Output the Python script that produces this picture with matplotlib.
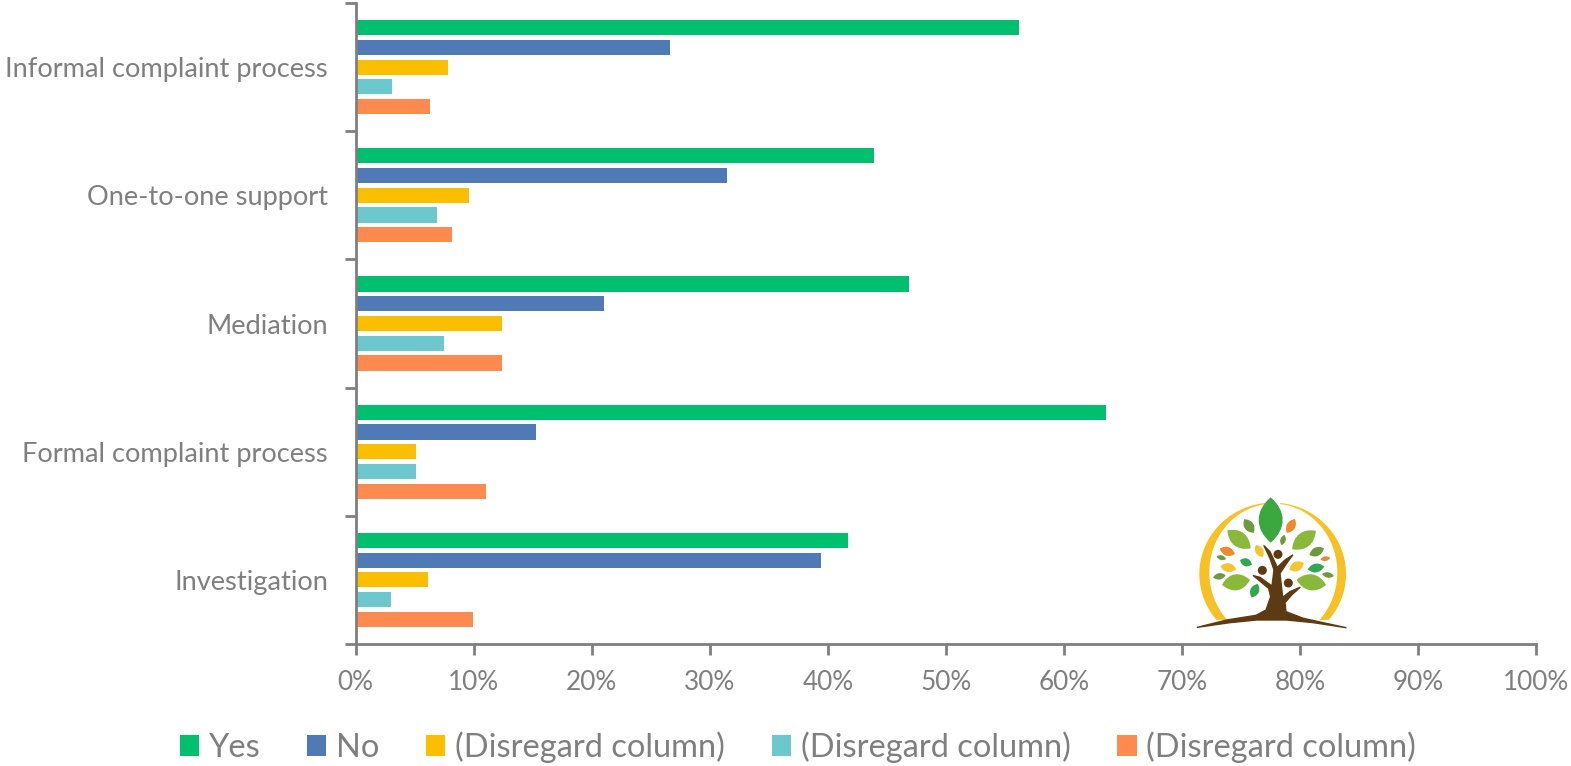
import numpy as np
import matplotlib
matplotlib.use('Agg')
import matplotlib.pyplot as plt
from matplotlib.path import Path
from matplotlib.patches import PathPatch, Circle, Polygon

plt.rcParams['font.family'] = ['Lato', 'DejaVu Sans']

categories = ['Informal complaint process', 'One-to-one support', 'Mediation',
              'Formal complaint process', 'Investigation']
series_names = ['Yes', 'No', '(Disregard column)', '(Disregard column)', '(Disregard column)']
yes = [56.2, 43.9, 46.9, 63.6, 41.7]
no = [26.6, 31.5, 21.0, 15.3, 39.4]
disregard_a = [7.8, 9.6, 12.4, 5.1, 6.1]
disregard_b = [3.1, 6.9, 7.5, 5.1, 3.0]
disregard_c = [6.3, 8.2, 12.4, 11.0, 9.9]
series = [yes, no, disregard_a, disregard_b, disregard_c]
colors = ['#00C070', '#4F7AB5', '#FBBE00', '#6DC8CE', '#FF8A50']
xticks = list(range(0, 101, 10))

W, H = 1571, 766
grey = '#7F7F7F'
fig = plt.figure(figsize=(W / 100, H / 100), dpi=100)
ax = fig.add_axes([355.7 / W, 1 - 644 / H, (1536 - 355.7) / W, (644 - 3) / H])

pos = np.arange(len(categories))
bar_h = 0.118
pitch = 0.154
for i, vals in enumerate(series):
    ax.barh(pos + (i - 2) * pitch, vals, height=bar_h, color=colors[i], label=series_names[i])

ax.set_xlim(0, 100)
ax.set_ylim(len(categories) - 0.5, -0.5)
ax.set_xticks(xticks)
ax.set_xticklabels([f'{t}%' for t in xticks])
ax.set_yticks(pos)
ax.set_yticklabels(categories)
# the axis ticks sit between categories, not on them
ax.set_yticks(np.arange(len(categories) + 1) - 0.5, minor=True)
ax.tick_params(axis='y', which='major', length=0, pad=20, labelsize=19.6, labelcolor=grey)
ax.tick_params(axis='y', which='minor', length=8, width=2, color=grey, direction='out')
ax.tick_params(axis='x', length=8, width=2, color=grey, pad=11, labelsize=18.8, labelcolor=grey)
for s in ['top', 'right']:
    ax.spines[s].set_visible(False)
for s in ['left', 'bottom']:
    ax.spines[s].set_color(grey)
    ax.spines[s].set_linewidth(2)

leg = fig.legend(loc='center', bbox_to_anchor=(798 / W, 1 - 747.5 / H), ncol=5, frameon=False,
                 fontsize=23.5, labelcolor=grey, handlelength=0.59, handleheight=0.62,
                 handletextpad=0.3, columnspacing=1.43, borderpad=0)

# logo, drawn in the pixel space of a 200x170 box
logo = fig.add_axes([1170 / W, 1 - 650 / H, 200 / W, 170 / H])
logo.set_xlim(0, 600)
logo.set_ylim(510, 0)
logo.axis('off')
logo.patch.set_alpha(0)


def leaf(x, y, length, width, angle, color):
    a = np.deg2rad(angle)
    ca, sa = np.cos(a), np.sin(a)
    l, w = length / 2, width * 0.8
    pts = np.array([(-l, 0), (-l * 0.4, w), (l * 0.4, w), (l, 0),
                    (l * 0.4, -w), (-l * 0.4, -w), (-l, 0)])
    px = x + pts[:, 0] * ca + pts[:, 1] * sa
    py = y - pts[:, 0] * sa + pts[:, 1] * ca
    codes = [Path.MOVETO] + [Path.CURVE4] * 6
    logo.add_patch(PathPatch(Path(np.column_stack([px, py]), codes), fc=color, ec='none'))


# yellow crescent ring
t_out = np.deg2rad(np.linspace(-40, 84, 60))
t_in = np.deg2rad(np.linspace(84, -44, 60))
for side in [1, -1]:
    ox = 308 + side * 220 * np.cos(t_out)
    oy = 282 - 214 * np.sin(t_out)
    ix = 310 + side * 192 * np.cos(t_in)
    iy = 277 - 206 * np.sin(t_in)
    logo.add_patch(Polygon(np.column_stack([ox, oy]).tolist() + np.column_stack([ix, iy]).tolist(),
                           fc='#F7C024', ec='none'))

light = '#8AB83A'
olive = '#6D9A3C'
dark = '#2FA84F'
orange = '#EE8A2A'
yellow = '#F5C52E'
leaves = [(302, 120, 136, 60, 90, '#3AA83E'), (237, 138, 50, 24, -55, olive), (363, 138, 48, 22, 60, orange),
          (207, 178, 88, 38, -38, light), (402, 180, 90, 38, 38, light), (339, 180, 32, 14, 75, olive),
          (268, 213, 42, 20, -60, yellow), (172, 214, 48, 22, -20, orange), (440, 215, 48, 22, 25, olive),
          (154, 233, 30, 12, -15, olive), (466, 236, 30, 12, 10, orange), (228, 247, 38, 20, -20, dark),
          (380, 259, 48, 24, 25, yellow), (175, 263, 48, 22, -10, yellow), (438, 264, 50, 22, 10, dark),
          (148, 289, 38, 16, 10, olive), (474, 285, 36, 14, -10, olive), (198, 307, 85, 40, 10, light),
          (424, 307, 90, 40, -10, light), (254, 332, 45, 22, 65, dark)]
for lf in leaves:
    leaf(*lf)

brown = '#5E3A12'
for cx, cy in [(324, 223), (277, 271), (355, 309)]:
    logo.add_patch(Circle((cx, cy), 13.5, fc=brown, ec='none'))
trunk = [(82, 442), (170, 420), (258, 406), (288, 390), (302, 350), (296, 325), (250, 287), (270, 292),
         (306, 318), (312, 270), (300, 235), (282, 197), (300, 215), (322, 262), (345, 240), (368, 225),
         (350, 250), (330, 280), (338, 352), (360, 335), (390, 322), (365, 345), (345, 368), (348, 395),
         (400, 415), (528, 443), (430, 428), (350, 420), (305, 420), (260, 420), (180, 428)]
logo.add_patch(Polygon(trunk, fc=brown, ec=brown, lw=1, joinstyle='round'))

fig.savefig('out.png', dpi=100)
